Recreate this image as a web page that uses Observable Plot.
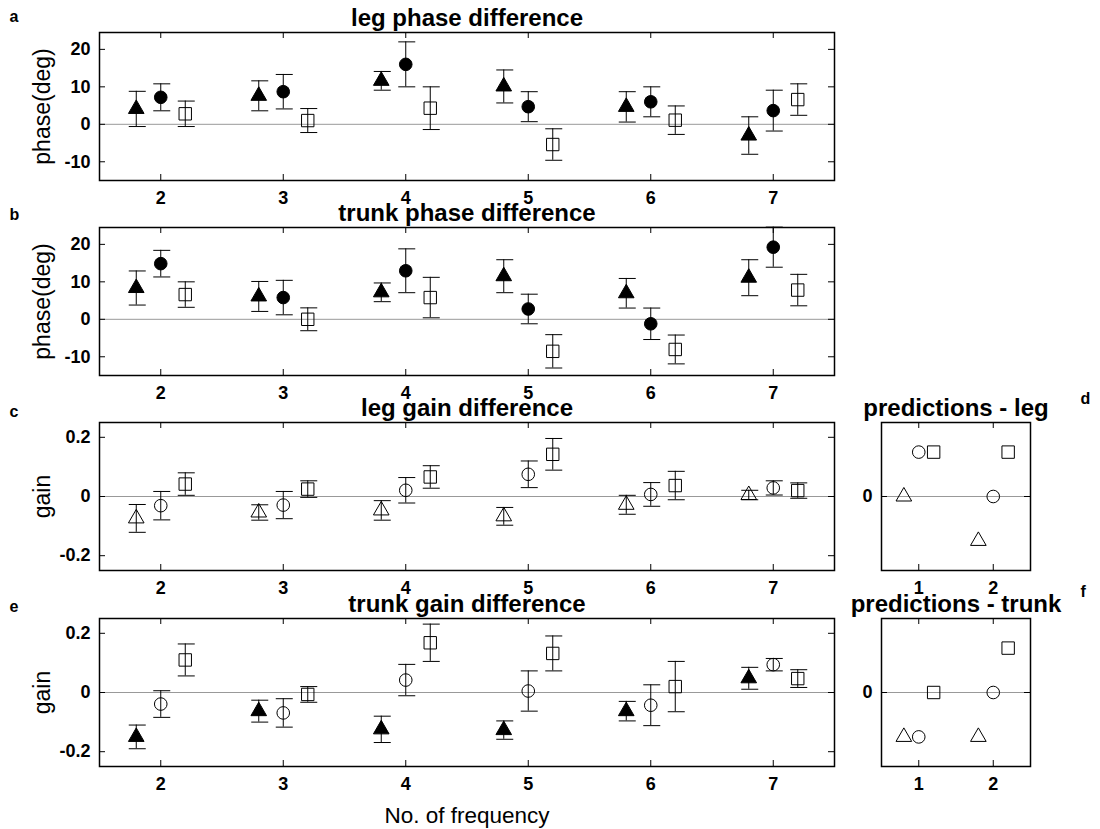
<!DOCTYPE html>
<html><head><meta charset="utf-8">
<script src="https://cdn.jsdelivr.net/npm/d3@7"></script>
<script src="https://cdn.jsdelivr.net/npm/@observablehq/plot@0.6"></script>
<style>
body{margin:0;background:#fff;}
#chart{position:relative;width:1100px;height:829px;overflow:hidden;background:#fff;}
#chart svg{position:absolute;}
</style></head><body><div id="chart"></div>
<script>
// ---------- data ----------
const freqs = [2, 3, 4, 5, 6, 7];
const phaseTicks = [-10, 0, 10, 20];
const gainTicks = [-0.2, 0, 0.2];
const predCats = [1, 2];
const predTicks = [0];

// a: leg phase difference (deg)
const legPhaseTriMean  = [4.1, 7.6, 11.6, 10.1, 4.65, -3.0];
const legPhaseTriErr   = [4.7, 4.0, 2.5, 4.4, 4.05, 5.0];
const legPhaseCircMean = [7.2, 8.7, 16.0, 4.7, 6.0, 3.65];
const legPhaseCircErr  = [3.6, 4.6, 6.0, 4.0, 4.0, 5.45];
const legPhaseSqMean   = [2.8, 1.0, 4.3, -5.4, 1.1, 6.6];
const legPhaseSqErr    = [3.4, 3.2, 5.7, 4.2, 3.8, 4.2];

// b: trunk phase difference (deg)
const trunkPhaseTriMean  = [8.35, 6.1, 7.2, 11.5, 6.95, 11.1];
const trunkPhaseTriErr   = [4.55, 4.0, 2.5, 4.4, 3.95, 4.8];
const trunkPhaseCircMean = [14.85, 5.8, 12.95, 2.75, -1.2, 19.25];
const trunkPhaseCircErr  = [3.55, 4.6, 5.85, 3.95, 4.2, 5.35];
const trunkPhaseSqMean   = [6.6, 0.0, 5.8, -8.55, -8.05, 7.8];
const trunkPhaseSqErr    = [3.4, 3.05, 5.4, 4.45, 3.85, 4.2];

// c: leg gain difference
const legGainTriMean  = [-0.074, -0.054, -0.047, -0.067, -0.028, 0.005];
const legGainTriErr   = [0.047, 0.026, 0.033, 0.030, 0.032, 0.016];
const legGainCircMean = [-0.031, -0.029, 0.021, 0.075, 0.007, 0.029];
const legGainCircErr  = [0.048, 0.046, 0.043, 0.045, 0.040, 0.024];
const legGainSqMean   = [0.042, 0.025, 0.066, 0.1425, 0.037, 0.020];
const legGainSqErr    = [0.038, 0.028, 0.038, 0.0535, 0.048, 0.026];

// e: trunk gain difference
const trunkGainTriMean  = [-0.150, -0.063, -0.1245, -0.127, -0.063, 0.048];
const trunkGainTriErr   = [0.040, 0.037, 0.0445, 0.031, 0.033, 0.037];
const trunkGainCircMean = [-0.039, -0.069, 0.042, 0.005, -0.043, 0.094];
const trunkGainCircErr  = [0.045, 0.048, 0.053, 0.068, 0.069, 0.021];
const trunkGainSqMean   = [0.110, -0.0065, 0.168, 0.132, 0.020, 0.047];
const trunkGainSqErr    = [0.054, 0.0265, 0.063, 0.059, 0.085, 0.030];

// d: predictions - leg
const predLegTri  = [0, -0.15];
const predLegCirc = [0.15, 0];
const predLegSq   = [0.15, 0.15];
// f: predictions - trunk
const predTrunkTri  = [-0.15, -0.15];
const predTrunkCirc = [-0.15, 0];
const predTrunkSq   = [0, 0.15];

// ---------- drawing ----------
const FONT = '"Liberation Sans", Arial, Helvetica, sans-serif';
const chart = document.getElementById("chart");
const innerH = 148;
const mTop = 40;
const offsets = {tri: -0.2, circ: 0, sq: 0.2};
const symR = {triangle: 5.8, circle: 6.3, square: 7.0};

function build(cats, means, errs, off) {
  return cats.map((c, i) => ({
    x: c + off, y: means[i],
    lo: errs ? means[i] - errs[i] : null,
    hi: errs ? means[i] + errs[i] : null
  }));
}

function baseMarks(xTicks, yTicks, innerW) {
  return [
    Plot.ruleY([0], {y: d => d, stroke: "#999", strokeWidth: 1}),
    Plot.ruleY(yTicks, {y: d => d, insetRight: innerW - 6, stroke: "black"}),
    Plot.ruleY(yTicks, {y: d => d, insetLeft: innerW - 6, stroke: "black"}),
    Plot.ruleX(xTicks, {x: d => d, insetTop: innerH - 6, stroke: "black"}),
    Plot.ruleX(xTicks, {x: d => d, insetBottom: innerH - 6, stroke: "black"})
  ];
}

function seriesMarks(sets, withErr, pxPerUnit) {
  const m = [];
  const cL = 7 / pxPerUnit, cR = 10 / pxPerUnit;
  for (const s of sets) {
    if (withErr) {
      m.push(Plot.ruleX(s.data, {x: "x", y1: "lo", y2: "hi", stroke: "black", strokeWidth: 1}));
      m.push(Plot.ruleY(s.data, {y: "hi", x1: d => d.x - cL, x2: d => d.x + cR, stroke: "black", strokeWidth: 1}));
      m.push(Plot.ruleY(s.data, {y: "lo", x1: d => d.x - cL, x2: d => d.x + cR, stroke: "black", strokeWidth: 1}));
    }
  }
  for (const s of sets) {
    m.push(Plot.dot(s.data, {
      x: "x", y: "y", symbol: s.symbol, r: symR[s.symbol],
      fill: s.filled ? "black" : "none", stroke: "black", strokeWidth: 1
    }));
  }
  return m;
}

function mainPanel(o) {
  const width = 850, mL = 99, mR = 16;
  const mBottom = o.xlabel ? 66 : 40;
  const innerW = width - mL - mR;
  const sets = [
    {data: build(freqs, o.tri[0], o.tri[1], offsets.tri), symbol: "triangle", filled: o.filled[0]},
    {data: build(freqs, o.circ[0], o.circ[1], offsets.circ), symbol: "circle", filled: o.filled[1]},
    {data: build(freqs, o.sq[0], o.sq[1], offsets.sq), symbol: "square", filled: o.filled[2]}
  ];
  const marks = [
    ...baseMarks(freqs, o.yTicks, innerW),
    ...seriesMarks(sets, true, innerW / 6),
    Plot.frame({stroke: "black", strokeWidth: 1.5}),
    Plot.axisX({ticks: freqs, tickSize: 0, tickPadding: 11, tickFormat: d => String(d), label: null}),
    Plot.axisY({ticks: o.yTicks, tickSize: 0, tickPadding: 9, tickFormat: o.yFmt, label: null}),
    Plot.text([o.title], {frameAnchor: "top", dy: -7, lineAnchor: "bottom", fontSize: 24, fontWeight: "bold"}),
    Plot.text([o.ylab], {frameAnchor: "left", dx: -57, rotate: -90, textAnchor: "middle", lineAnchor: "middle", fontSize: 23, fontWeight: "normal"}),
    Plot.text([o.letter], {frameAnchor: "top-left", dx: -90, dy: o.letterDy, textAnchor: "start", lineAnchor: "bottom", fontSize: 16, fontWeight: "bold"})
  ];
  if (o.xlabel) {
    marks.push(Plot.text([o.xlabel], {frameAnchor: "bottom", dy: 56, lineAnchor: "bottom", fontSize: 22.5, fontWeight: "normal"}));
  }
  const svg = Plot.plot({
    width, height: mTop + innerH + mBottom,
    marginLeft: mL, marginRight: mR, marginTop: mTop, marginBottom: mBottom,
    x: {domain: [1.5, 7.5], axis: null},
    y: {domain: o.yDomain, axis: null},
    style: {background: "transparent", overflow: "visible", fontFamily: FONT, fontSize: "18px", fontWeight: "bold", color: "black"},
    marks
  });
  svg.style.left = "0px";
  svg.style.top = (o.top - mTop) + "px";
  chart.appendChild(svg);
}

function predPanel(o) {
  const width = 300, mL = 81, mR = 70, mBottom = 40;
  const innerW = width - mL - mR;
  const sets = [
    {data: build(predCats, o.tri, null, offsets.tri), symbol: "triangle", filled: false},
    {data: build(predCats, o.circ, null, offsets.circ), symbol: "circle", filled: false},
    {data: build(predCats, o.sq, null, offsets.sq), symbol: "square", filled: false}
  ];
  const svg = Plot.plot({
    width, height: mTop + innerH + mBottom,
    marginLeft: mL, marginRight: mR, marginTop: mTop, marginBottom: mBottom,
    x: {domain: [0.5, 2.5], axis: null},
    y: {domain: [-0.25, 0.25], axis: null},
    style: {background: "transparent", overflow: "visible", fontFamily: FONT, fontSize: "18px", fontWeight: "bold", color: "black"},
    marks: [
      ...baseMarks(predCats, predTicks, innerW),
      ...seriesMarks(sets, false, innerW / 2),
      Plot.frame({stroke: "black", strokeWidth: 1.5}),
      Plot.axisX({ticks: predCats, tickSize: 0, tickPadding: 11, tickFormat: d => String(d), label: null}),
      Plot.axisY({ticks: predTicks, tickSize: 0, tickPadding: 9, tickFormat: d => String(d), label: null}),
      Plot.text([o.title], {frameAnchor: "top", dy: -7, lineAnchor: "bottom", fontSize: 24, fontWeight: "bold"}),
      Plot.text([o.letter], {frameAnchor: "top-right", dx: 50, dy: o.letterDy, textAnchor: "start", lineAnchor: "bottom", fontSize: 16, fontWeight: "bold"})
    ]
  });
  svg.style.left = "800px";
  svg.style.top = (o.top - mTop) + "px";
  chart.appendChild(svg);
}

const phaseFmt = d => String(d);
const gainFmt = d => d === 0 ? "0" : d.toFixed(1);

mainPanel({title: "leg phase difference", ylab: "phase(deg)", letter: "a", letterDy: -11, top: 31.7,
  yDomain: [-15, 24.5], yTicks: phaseTicks, yFmt: phaseFmt, filled: [true, true, false],
  tri: [legPhaseTriMean, legPhaseTriErr], circ: [legPhaseCircMean, legPhaseCircErr], sq: [legPhaseSqMean, legPhaseSqErr]});
mainPanel({title: "trunk phase difference", ylab: "phase(deg)", letter: "b", letterDy: -8, top: 226.7,
  yDomain: [-15, 24.5], yTicks: phaseTicks, yFmt: phaseFmt, filled: [true, true, false],
  tri: [trunkPhaseTriMean, trunkPhaseTriErr], circ: [trunkPhaseCircMean, trunkPhaseCircErr], sq: [trunkPhaseSqMean, trunkPhaseSqErr]});
mainPanel({title: "leg gain difference", ylab: "gain", letter: "c", letterDy: -6, top: 422.3,
  yDomain: [-0.25, 0.25], yTicks: gainTicks, yFmt: gainFmt, filled: [false, false, false],
  tri: [legGainTriMean, legGainTriErr], circ: [legGainCircMean, legGainCircErr], sq: [legGainSqMean, legGainSqErr]});
mainPanel({title: "trunk gain difference", ylab: "gain", letter: "e", letterDy: -7, top: 617.7, xlabel: "No. of frequency",
  yDomain: [-0.25, 0.25], yTicks: gainTicks, yFmt: gainFmt, filled: [true, false, false],
  tri: [trunkGainTriMean, trunkGainTriErr], circ: [trunkGainCircMean, trunkGainCircErr], sq: [trunkGainSqMean, trunkGainSqErr]});
predPanel({title: "predictions - leg", letter: "d", letterDy: -19, top: 422.3, tri: predLegTri, circ: predLegCirc, sq: predLegSq});
predPanel({title: "predictions - trunk", letter: "f", letterDy: -22, top: 617.7, tri: predTrunkTri, circ: predTrunkCirc, sq: predTrunkSq});
</script></body></html>
